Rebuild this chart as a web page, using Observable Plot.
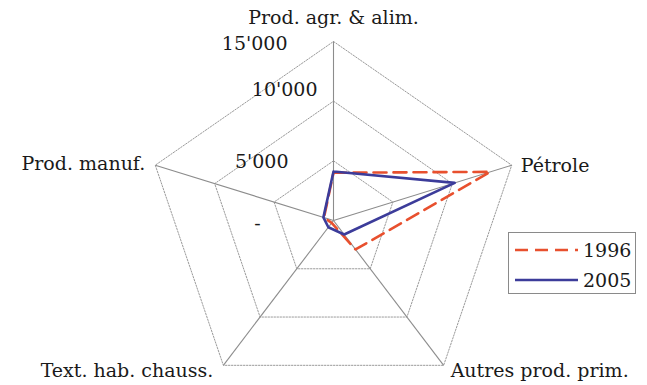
<!DOCTYPE html>
<html><head><meta charset="utf-8">
<script src="https://cdn.jsdelivr.net/npm/d3@7"></script>
<script src="https://cdn.jsdelivr.net/npm/@observablehq/plot@0.6"></script>
<style>
html,body{margin:0;padding:0;background:#fff;}
#wrap{position:relative;width:647px;height:385px;font-family:"DejaVu Serif",serif;color:#1a1a1a;}
#legend{position:absolute;left:508px;top:232px;width:126px;height:60px;border:1px solid #8a8a8a;background:#fff;font-size:19px;}
#legend .item{position:absolute;left:6px;height:22px;display:flex;align-items:center;}
#legend svg{display:block;}
</style></head><body><div id="wrap"></div>
<script>
// ---- data ----
const categories = ["Prod. agr. & alim.", "Pétrole", "Autres prod. prim.", "Text. hab. chauss.", "Prod. manuf."];
const years = ["1996", "2005"];
const values1996 = [4000, 13200, 3000, 250, 800];
const values2005 = [4100, 10200, 1450, 700, 850];
const ringLevels = [5000, 10000, 15000];
const tickValues = [0, 5000, 10000, 15000];
const tickLabels = ["-", "5'000", "10'000", "15'000"];
const maxValue = 15000;

// ---- styles ----
const colors = {"1996": "#e8502e", "2005": "#3c3c9a"};
const dashes = {"1996": "13,7", "2005": null};
const fontSize = 19;
const catOffsets = [
  {anchor: "middle", dx: 0, dy: -24},
  {anchor: "start", dx: 9, dy: 1},
  {anchor: "start", dx: 7, dy: 6},
  {anchor: "end", dx: -10, dy: 6},
  {anchor: "end", dx: -10, dy: -1}
];
const tickOffsets = [
  {anchor: "middle", dx: -76, dy: 3},
  {anchor: "end", dx: -45, dy: 1},
  {anchor: "end", dx: -16, dy: -11},
  {anchor: "end", dx: -46, dy: 2}
];

const n = categories.length;
const ang = i => 2 * Math.PI * i / n;
const pt = (i, v) => ({x: v * Math.sin(ang(i)), y: v * Math.cos(ang(i))});

const rings = ringLevels.flatMap(level =>
  d3.range(n + 1).map(i => ({level, ...pt(i % n, level)})));
const spokes = categories.map((c, i) => ({c, ...pt(i, maxValue)}));
const seriesVals = {"1996": values1996, "2005": values2005};
const series = years.map(y => d3.range(n + 1).map(i => ({year: y, ...pt(i % n, seriesVals[y][i % n])})));
const ticks = tickValues.map((v, i) => ({label: tickLabels[i], x: 0, y: v}));

const cx = 333, cy = 220, ry = 179, rx = 187.4;
const marks = [];
marks.push(Plot.line(rings, {x: "x", y: "y", z: "level", stroke: "#9a9a9a", strokeWidth: 1, strokeDasharray: "1.5,1.5"}));
marks.push(Plot.link(spokes, {x1: () => 0, y1: () => 0, x2: "x", y2: "y", stroke: "#8c8c8c", strokeWidth: 1.1}));
series.forEach(s => {
  const y = s[0].year;
  marks.push(Plot.line(s, {x: "x", y: "y", stroke: colors[y], strokeWidth: 2.6, strokeDasharray: dashes[y], curve: "linear"}));
});
categories.forEach((c, i) => {
  const o = catOffsets[i];
  marks.push(Plot.text([spokes[i]], {x: "x", y: "y", text: "c", textAnchor: o.anchor, dx: o.dx, dy: o.dy, fontSize, fill: "#1a1a1a"}));
});
ticks.forEach((t, i) => {
  const o = tickOffsets[i];
  marks.push(Plot.text([t], {x: "x", y: "y", text: "label", textAnchor: o.anchor, dx: o.dx, dy: o.dy, fontSize, fill: "#1a1a1a"}));
});

const chart = Plot.plot({
  width: 647, height: 385, margin: 0,
  style: {fontFamily: "'DejaVu Serif', serif", background: "#fff", overflow: "visible"},
  x: {domain: [-maxValue, maxValue], range: [cx - rx, cx + rx], axis: null},
  y: {domain: [-maxValue, maxValue], range: [cy + ry, cy - ry], axis: null},
  marks
});
const wrap = document.getElementById("wrap");
wrap.appendChild(chart);

const legend = document.createElement("div");
legend.id = "legend";
years.forEach((y, i) => {
  const item = document.createElement("div");
  item.className = "item";
  item.style.top = (i === 0 ? 6 : 36) + "px";
  const dash = dashes[y] ? `stroke-dasharray="${dashes[y]}"` : "";
  item.innerHTML = `<svg width="68" height="22"><line x1="0" y1="11" x2="63" y2="11" stroke="${colors[y]}" stroke-width="2.6" ${dash}/></svg><span>${y}</span>`;
  legend.appendChild(item);
});
wrap.appendChild(legend);
</script></body></html>
